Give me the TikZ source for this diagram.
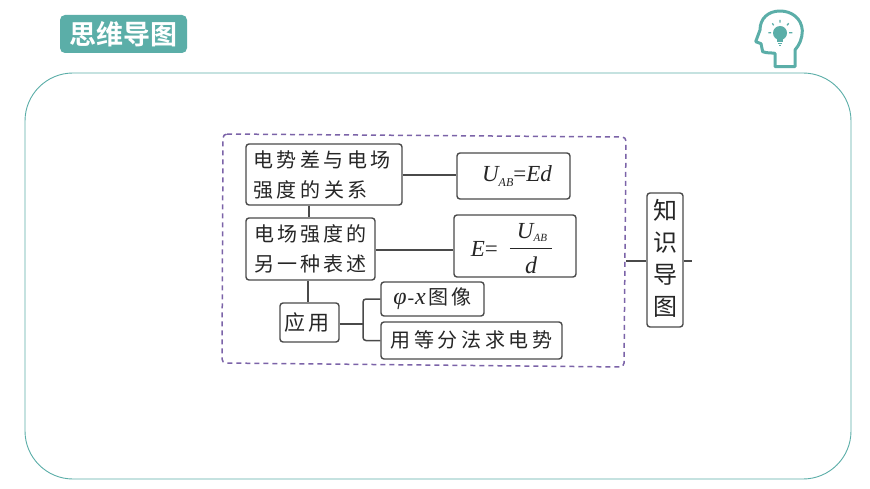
\documentclass[tikz,border=0pt]{standalone}
\usepackage{fontspec}
\newfontfamily\cjk[LetterSpace=14]{Noto Sans CJK SC}
\newfontfamily\cjkw[LetterSpace=18]{Noto Sans CJK SC}
\newfontfamily\cjkb{Noto Sans CJK SC Bold}
\newfontfamily\tmi{Liberation Serif Italic}
\newfontfamily\tmr{Liberation Serif}
\newcommand{\fs}[2]{\fontsize{#1}{#2}\selectfont}
\definecolor{teal1}{HTML}{5BAEA8}
\definecolor{ink}{HTML}{4A4A4A}
\definecolor{dashp}{HTML}{7B63A8}
\tikzset{
  mapbox/.style={draw=ink,line width=1.4pt,rounded corners=3pt,fill=white,inner sep=0pt,align=center,text=black!85},
  link/.style={draw=ink,line width=1.5pt},
  iconline/.style={draw=teal1,line width=3pt,line join=round,line cap=round}
}
\begin{document}
\begin{tikzpicture}[x=1pt,y=-1pt]
\useasboundingbox (0,0) rectangle (870,489);
\fill[white] (0,0) rectangle (870,489);
% outer panel
\draw[teal1,line width=0.9pt,rounded corners=48pt] (25,73) rectangle (851,479);
% title
\node[fill=teal1,rounded corners=5pt,minimum width=127pt,minimum height=38pt,inner sep=0pt,text=white,font=\cjkb\fs{27}{30}] (title) at (123.5,34) {\raisebox{-1.5pt}{思维导图}};
% icon
\begin{scope}[shift={(740,0)},scale=1/3]
\draw[iconline] (105,200) -- (165,200) -- (165,150)
  .. controls (178,135) and (187,115) .. (187,92)
  .. controls (185,55) and (155,33) .. (120,33)
  .. controls (85,33) and (60,55) .. (60,90)
  -- (47,125) -- (63,131) -- (68,155)
  .. controls (80,160) and (95,158) .. (105,160) -- cycle;
\fill[teal1] (120,99) circle (21);
\fill[teal1] (110,112) rectangle (130,126);
\fill[teal1] (113,129) rectangle (127,133);
\fill[teal1] (116,135) rectangle (124,139);
\draw[teal1,line width=1.3pt] (85,98)--(93,98) (147,98)--(157,98) (97,70)--(101,76) (146,70)--(141,76) (120,60)--(120,68);
\end{scope}
% dashed frame
\draw[dashp,line width=1.5pt,dash pattern=on 5pt off 4pt,rounded corners=4pt] (223,134) -- (626,137) -- (624,367) -- (222,363) -- cycle;
% boxes
\node[mapbox,minimum width=156pt,minimum height=61pt,font=\cjkw\fs{20}{30}] (b1) at (324,174.5) {\hspace*{-4pt}电势差与电场\\\hspace*{-27pt}强度的关系};
\node[mapbox,minimum width=129pt,minimum height=62pt,font=\cjk\fs{20}{30}] (b2) at (310.5,249) {电场强度的\\另一种表述};
\node[mapbox,minimum width=59pt,minimum height=39pt,font=\cjk\fs{21}{25}] (app) at (309.5,322.5) {\hspace*{-5pt}应用};
\node[mapbox,minimum width=103pt,minimum height=34pt,font=\cjk\fs{20}{25}] (phi) at (432.5,299) {{\tmi\fs{24}{25}φ\kern1pt{\tmr\fs{20}{25}-}\kern1pt x}\kern3pt 图像};
\node[mapbox,minimum width=181pt,minimum height=37pt,font=\cjkw\fs{20}{25}] (deng) at (471.5,340.5) {用等分法求电势\rule[-3pt]{0pt}{1pt}};
\node[mapbox,minimum width=113pt,minimum height=46pt] (uab) at (513.5,176) {\hspace*{7pt}{\tmi\fs{23}{28}U\raisebox{-5pt}{\fs{12}{14}AB}{\tmr=}Ed}};
\node[mapbox,minimum width=122pt,minimum height=62pt] (efr) at (515,246) {\hspace*{-6pt}\raisebox{-6pt}{\tmi\fs{23}{28}E{\tmr=}}\hspace*{11pt}$\displaystyle\frac{\mbox{\rule[-8pt]{0pt}{28pt}\hspace*{7pt}\tmi\fs{23}{26}U\raisebox{-3pt}{\fs{11}{13}AB}\hspace*{5pt}}}{\mbox{\rule{0pt}{24pt}\tmi\fs{24}{28}d}}$};
\node[mapbox,minimum width=36pt,minimum height=134pt,font=\cjk\fs{24}{32}] (zs) at (665,260) {知\\识\\导\\图\rule[-5pt]{0pt}{1pt}};
% free ends
\coordinate (fr) at (626,261);
\coordinate (tail) at (692,261);
\coordinate (j) at (363,324);
% connectors
\draw[link] ([yshift=-.5pt]b1.east) -- ([yshift=-.5pt]uab.west |- b1.east);
\draw[link] ([yshift=-1pt]b2.east) -- ([yshift=-1pt]efr.west |- b2.east);
\draw[link] (b1.south -| 309,0) -- (b2.north -| 309,0);
\draw[link] (b2.south -| 308,0) -- (app.north -| 308,0);
\draw[link] (app.east |- j) -- (j);
\draw[link,rounded corners=3pt] (phi.west) -| (j) |- (deng.west);
\draw[link] (fr) -- (fr -| zs.west);
\draw[link] (fr -| zs.east) -- (tail);
\end{tikzpicture}
\end{document}
